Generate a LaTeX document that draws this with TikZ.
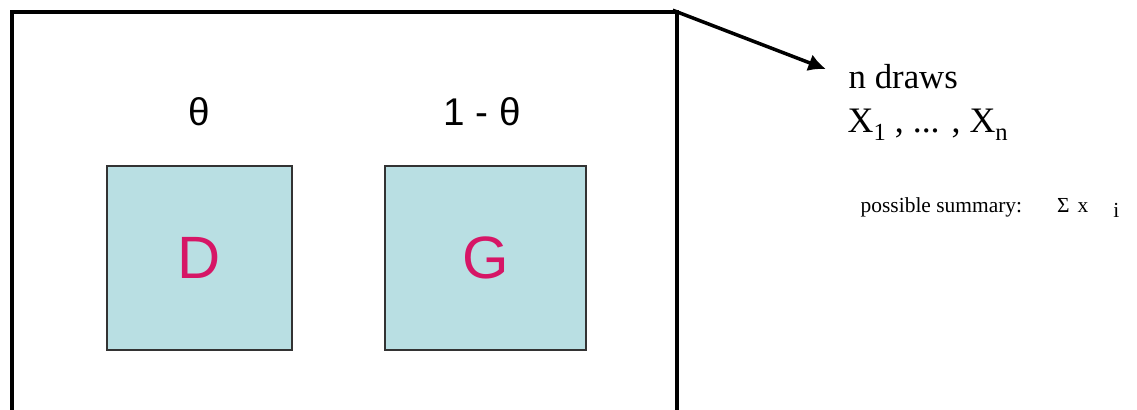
\documentclass[tikz,border=0pt]{standalone}
\usepackage{fontspec}
\setmainfont{Liberation Serif}
\newfontfamily\arialfont{Liberation Sans}
\usetikzlibrary{arrows.meta,positioning}
\definecolor{urnblue}{RGB}{185,223,227}
\definecolor{ballred}{RGB}{214,22,102}
\newcommand{\lowsub}[1]{\raisebox{-0.5ex}{\fontsize{7}{8}\selectfont #1}}

\begin{document}
\begin{tikzpicture}[>=Latex]
  \tikzstyle{ball}=[draw=black!80,line width=0.5pt,fill=urnblue,minimum height=1.84cm,text=ballred,font=\arialfont\fontsize{17}{20}\selectfont]
  \tikzstyle{prob}=[inner sep=0pt,font=\arialfont\fontsize{11}{13}\selectfont]
  \tikzstyle{note}=[inner sep=0pt,anchor=base west,align=left]
  \clip (0,0) rectangle (11.37,-4.09);
  \node[draw,line width=1pt,minimum width=6.65cm,minimum height=4.2cm] (urn) at (3.445,-2.22) {};
  \node[ball,minimum width=1.85cm] (dbox) at (1.995,-2.58) {D};
  \node[ball,minimum width=2.01cm,right=0.91cm of dbox] (gbox) {G};
  \node[prob,above=0.39cm of dbox] (theta) {θ};
  \node[prob,above=0.39cm of gbox,xshift=-0.03cm] (oneminus) {1 - θ};
  \node[note,font=\fontsize{9.9}{12}\selectfont] (draws) at (8.48,-0.88) {n draws};
  \node[note,font=\fontsize{10.2}{12}\selectfont] (sample) at (8.47,-1.32) {X\lowsub{1} , ... , X\lowsub{n}};
  \node[note,font=\fontsize{6.1}{8}\selectfont] (summary) at (8.60,-2.12) {possible summary:\hspace{0.35cm}Σ\hspace{0.08cm}x\hspace{0.25cm}\raisebox{-0.6ex}{i}};
  \draw[line width=1pt,-{Latex[length=5pt,width=5pt]}] ([xshift=-0.06cm]urn.north east) -- ([xshift=-0.22cm,yshift=-0.06cm]draws.north west);
\end{tikzpicture}
\end{document}
